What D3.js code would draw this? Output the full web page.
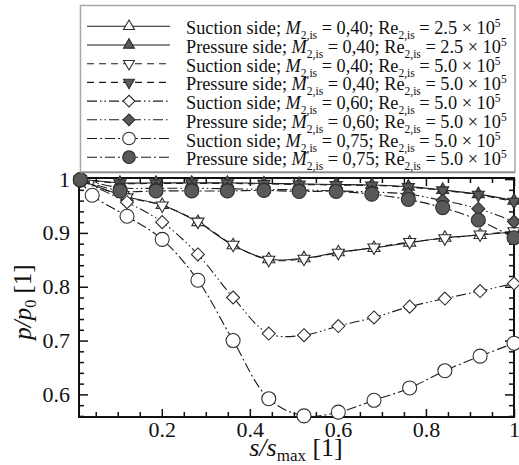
<!DOCTYPE html>
<html>
<head>
<meta charset="utf-8">
<script src="https://cdn.jsdelivr.net/npm/d3@7"></script>
<style>
  html, body { margin: 0; padding: 0; background: #fff; }
  svg { display: block; font-family: "Liberation Serif", "Times New Roman", serif; }
</style>
</head>
<body>
<svg id="chart" width="519" height="465"></svg>
<script>
// Surface positions s/s_max of the measuring taps
const xPressure   = [0.015, 0.105, 0.187, 0.268, 0.349, 0.432, 0.512, 0.596, 0.677, 0.760, 0.838, 0.919, 1.0];
const xSuction    = [0.015, 0.121, 0.201, 0.282, 0.362, 0.443, 0.523, 0.601, 0.682, 0.763, 0.843, 0.923, 1.0];
const xSuction075 = [0.015, 0.042, 0.121, 0.201, 0.282, 0.362, 0.443, 0.523, 0.601, 0.682, 0.763, 0.843, 0.923, 1.0];

// Static pressure ratio p/p0
const ssM040Re25 = [0.998, 0.967, 0.952, 0.920, 0.877, 0.851, 0.853, 0.864, 0.872, 0.882, 0.891, 0.896, 0.902];
const psM040Re25 = [1.000, 0.993, 0.993, 0.993, 0.993, 0.992, 0.991, 0.990, 0.989, 0.986, 0.980, 0.972, 0.960];
const ssM040Re50 = [0.998, 0.966, 0.951, 0.921, 0.878, 0.850, 0.852, 0.863, 0.873, 0.883, 0.890, 0.897, 0.903];
const psM040Re50 = [1.000, 0.992, 0.992, 0.992, 0.992, 0.991, 0.990, 0.989, 0.988, 0.985, 0.979, 0.971, 0.958];
const ssM060Re50 = [0.998, 0.957, 0.920, 0.860, 0.780, 0.713, 0.710, 0.727, 0.743, 0.763, 0.778, 0.792, 0.806];
const psM060Re50 = [1.000, 0.984, 0.983, 0.983, 0.982, 0.981, 0.980, 0.978, 0.976, 0.972, 0.960, 0.945, 0.921];
const ssM075Re50 = [0.998, 0.970, 0.931, 0.888, 0.812, 0.700, 0.592, 0.560, 0.567, 0.589, 0.612, 0.644, 0.671, 0.695];
const psM075Re50 = [0.999, 0.978, 0.978, 0.978, 0.978, 0.979, 0.977, 0.977, 0.972, 0.962, 0.947, 0.924, 0.891];

// Legend wording
const sideNames = ["Suction side", "Pressure side", "Suction side", "Pressure side",
                   "Suction side", "Pressure side", "Suction side", "Pressure side"];
const machNumbers = ["0,40", "0,40", "0,40", "0,40", "0,60", "0,60", "0,75", "0,75"];
const reynoldsMantissa = ["2.5", "2.5", "5.0", "5.0", "5.0", "5.0", "5.0", "5.0"];

// Axis ticks
const xMajorTicks = [0.2, 0.4, 0.6, 0.8, 1];
const yMajorTicks = [0.6, 0.7, 0.8, 0.9, 1];
const xMinorTicks = d3.range(1, 21).filter(i => i % 4 !== 0).map(i => i / 20);
const yMinorTicks = d3.range(28, 51).filter(i => i % 5 !== 0).map(i => i / 50);

// Style per series
const DASH = "7,5", DASH_DOT_DOT = "10,3,1.5,3,1.5,3", DASH_DOT = "10,3,2,3";
const series = [
  { xs: xSuction,    ys: ssM040Re25, shape: "triUp",   filled: false, dash: null },
  { xs: xPressure,   ys: psM040Re25, shape: "triUp",   filled: true,  dash: null },
  { xs: xSuction,    ys: ssM040Re50, shape: "triDown", filled: false, dash: DASH },
  { xs: xPressure,   ys: psM040Re50, shape: "triDown", filled: true,  dash: DASH },
  { xs: xSuction,    ys: ssM060Re50, shape: "diamond", filled: false, dash: DASH_DOT_DOT },
  { xs: xPressure,   ys: psM060Re50, shape: "diamond", filled: true,  dash: DASH_DOT_DOT },
  { xs: xSuction075, ys: ssM075Re50, shape: "circle",  filled: false, dash: DASH_DOT },
  { xs: xPressure,   ys: psM075Re50, shape: "circle",  filled: true,  dash: DASH_DOT }
];

const svg = d3.select("#chart");
const plot = { left: 79, right: 514, top: 178, bottom: 417 };

const x = d3.scaleLinear().domain([0.012, 1.0]).range([plot.left, plot.right]);
const y = d3.scaleLinear().domain([0.558, 1.002]).range([plot.bottom, plot.top]);

const LINE_COLOR = "#1c1c1c";
const MARK_STROKE = "#2e2e2e";
const MARK_FILL = "#595959";

function markerPath(shape, r) {
  const line = d3.line();
  if (shape === "triUp") {
    return line([[0, -r], [r * 0.866, r * 0.5], [-r * 0.866, r * 0.5]]) + "Z";
  }
  if (shape === "triDown") {
    return line([[0, r], [r * 0.866, -r * 0.5], [-r * 0.866, -r * 0.5]]) + "Z";
  }
  if (shape === "diamond") {
    return line([[0, -r], [r, 0], [0, r], [-r, 0]]) + "Z";
  }
  return d3.symbol(d3.symbolCircle, Math.PI * r * r)();
}
const markerSize = { triUp: 7, triDown: 7, diamond: 6.5, circle: 7 };

function drawMarker(g, shape, filled, cx, cy, scale) {
  g.append("path")
    .attr("d", markerPath(shape, markerSize[shape] * scale))
    .attr("transform", `translate(${cx},${cy})`)
    .attr("fill", filled ? MARK_FILL : "#fff")
    .attr("stroke", MARK_STROKE)
    .attr("stroke-width", 1.1);
}

// ---- axes: inward ticks on all four sides ----
const axes = svg.append("g").attr("font-size", 22).attr("fill", "#111");

function styleAxis(g) {
  g.select(".domain").remove();
  g.selectAll(".tick line").attr("stroke", "#111").attr("stroke-width", 1.5);
  g.selectAll("text").attr("fill", "#111").attr("font-family", "'Liberation Serif', serif").attr("font-size", 22);
}

axes.append("g").attr("transform", `translate(0,${plot.bottom})`)
  .call(d3.axisBottom(x).tickValues(xMajorTicks).tickSizeInner(-8).tickSizeOuter(0).tickPadding(4)
        .tickFormat(d3.format("")))
  .call(styleAxis);
axes.append("g").attr("transform", `translate(0,${plot.bottom})`)
  .call(d3.axisBottom(x).tickValues(xMinorTicks).tickSizeInner(-5).tickSizeOuter(0).tickFormat(""))
  .call(styleAxis);
axes.append("g").attr("transform", `translate(0,${plot.top})`)
  .call(d3.axisTop(x).tickValues(xMajorTicks).tickSizeInner(-8).tickSizeOuter(0).tickFormat(""))
  .call(styleAxis);
axes.append("g").attr("transform", `translate(0,${plot.top})`)
  .call(d3.axisTop(x).tickValues(xMinorTicks).tickSizeInner(-5).tickSizeOuter(0).tickFormat(""))
  .call(styleAxis);

axes.append("g").attr("transform", `translate(${plot.left},0)`)
  .call(d3.axisLeft(y).tickValues(yMajorTicks).tickSizeInner(-9).tickSizeOuter(0).tickPadding(9)
        .tickFormat(d3.format("")))
  .call(styleAxis);
axes.append("g").attr("transform", `translate(${plot.left},0)`)
  .call(d3.axisLeft(y).tickValues(yMinorTicks).tickSizeInner(-5).tickSizeOuter(0).tickFormat(""))
  .call(styleAxis);
axes.append("g").attr("transform", `translate(${plot.right},0)`)
  .call(d3.axisRight(y).tickValues(yMajorTicks).tickSizeInner(-9).tickSizeOuter(0).tickFormat(""))
  .call(styleAxis);
axes.append("g").attr("transform", `translate(${plot.right},0)`)
  .call(d3.axisRight(y).tickValues(yMinorTicks).tickSizeInner(-5).tickSizeOuter(0).tickFormat(""))
  .call(styleAxis);

// plot frame
svg.append("rect")
  .attr("x", plot.left).attr("y", plot.top)
  .attr("width", plot.right - plot.left).attr("height", plot.bottom - plot.top)
  .attr("fill", "none").attr("stroke", "#111").attr("stroke-width", 2);

// ---- data ----
const curve = d3.line().curve(d3.curveCatmullRom.alpha(0.5));
series.forEach(s => {
  const pts = s.xs.map((v, i) => [x(v), y(s.ys[i])]);
  svg.append("path")
    .attr("d", curve(pts))
    .attr("fill", "none")
    .attr("stroke", LINE_COLOR)
    .attr("stroke-width", 1.1)
    .attr("stroke-dasharray", s.dash);
  const mg = svg.append("g");
  pts.forEach(p => drawMarker(mg, s.shape, s.filled, p[0], p[1], 1));
});

// ---- axis titles ----
const xTitle = svg.append("text")
  .attr("x", 296).attr("y", 456)
  .attr("text-anchor", "middle")
  .attr("font-size", 26).attr("fill", "#111");
xTitle.append("tspan").attr("font-style", "italic").text("s/s");
xTitle.append("tspan").attr("font-size", 17).attr("dy", 5).text("max");
xTitle.append("tspan").attr("dy", -5).text(" [1]");

const yTitle = svg.append("text")
  .attr("transform", "translate(31,302) rotate(-90)")
  .attr("text-anchor", "middle")
  .attr("font-size", 25).attr("fill", "#111");
yTitle.append("tspan").attr("font-style", "italic").text("p/p");
yTitle.append("tspan").attr("font-size", 16).attr("dy", 5).text("0");
yTitle.append("tspan").attr("dy", -5).text(" [1]");

// ---- legend ----
const legend = svg.append("g");
legend.append("rect")
  .attr("x", 80.5).attr("y", 5.5).attr("width", 434.5).attr("height", 166.5)
  .attr("fill", "#fff").attr("stroke", "#a8a8a8").attr("stroke-width", 1.5);
legend.append("line")
  .attr("x1", 80.5).attr("x2", 515).attr("y1", 172.5).attr("y2", 172.5)
  .attr("stroke", "#8a8a8a").attr("stroke-width", 1.5);

const rowBase = 34.3, rowStep = 18.7;
series.forEach((s, i) => {
  const base = rowBase + i * rowStep;
  const cy = base - 8;
  legend.append("line")
    .attr("x1", 87).attr("x2", 170).attr("y1", cy).attr("y2", cy)
    .attr("stroke", LINE_COLOR).attr("stroke-width", 1.1)
    .attr("stroke-dasharray", s.dash);
  drawMarker(legend, s.shape, s.filled, 129, cy, 0.9);

  const t = legend.append("text")
    .attr("x", 186).attr("y", base)
    .attr("font-size", 18.3).attr("fill", "#111");
  t.append("tspan").text(sideNames[i] + "; ");
  t.append("tspan").attr("font-style", "italic").text("M");
  t.append("tspan").attr("font-size", 11.5).attr("dy", 5).text("2,is");
  t.append("tspan").attr("dy", -5).text(" = " + machNumbers[i] + "; Re");
  t.append("tspan").attr("font-size", 11.5).attr("dy", 5).text("2,is");
  t.append("tspan").attr("dy", -5).text(" = " + reynoldsMantissa[i] + " × 10");
  t.append("tspan").attr("font-size", 11.5).attr("dy", -7).text("5");
});
</script>
</body>
</html>
